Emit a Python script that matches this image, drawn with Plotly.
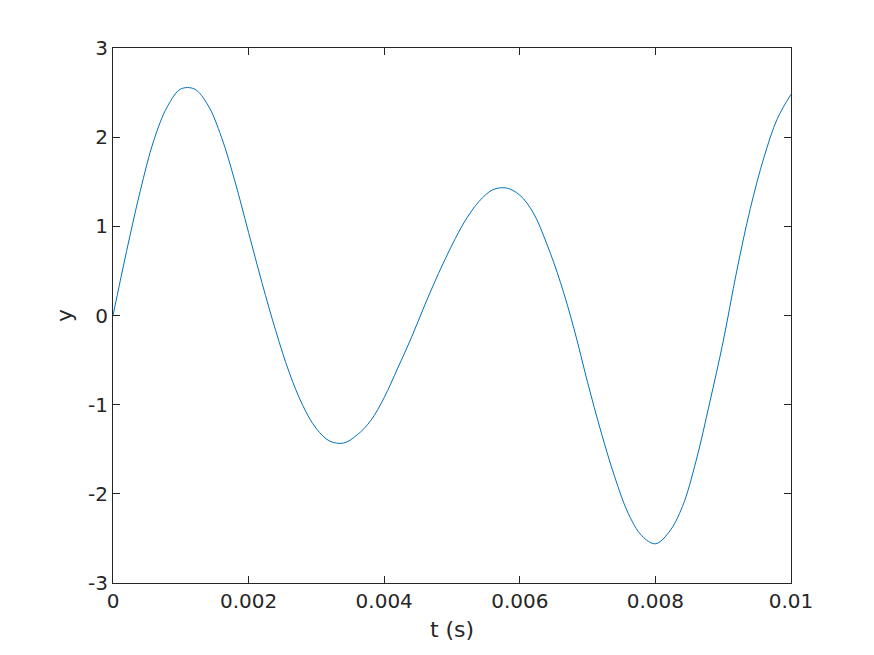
import plotly.graph_objects as go

# time samples (s) and signal values
t = [0.0000, 0.0002, 0.0004, 0.0006, 0.0008, 0.0010, 0.0012, 0.0014, 0.0016, 0.0018,
     0.0020, 0.0022, 0.0024, 0.0026, 0.0028, 0.0030, 0.0032, 0.0034, 0.0036, 0.0038,
     0.0040, 0.0042, 0.0044, 0.0046, 0.0048, 0.0050, 0.0052, 0.0054, 0.0056, 0.0058,
     0.0060, 0.0062, 0.0064, 0.0066, 0.0068, 0.0070, 0.0072, 0.0074, 0.0076, 0.0078,
     0.0080, 0.0082, 0.0084, 0.0086, 0.0088, 0.0090, 0.0092, 0.0094, 0.0096, 0.0098,
     0.0100]
y = [0.00, 0.72, 1.39, 1.96, 2.34, 2.54, 2.54, 2.36, 2.00, 1.50,
     0.93, 0.36, -0.17, -0.64, -1.01, -1.27, -1.41, -1.43, -1.34, -1.18,
     -0.92, -0.59, -0.25, 0.12, 0.47, 0.79, 1.07, 1.28, 1.41, 1.43,
     1.35, 1.15, 0.80, 0.37, -0.15, -0.75, -1.31, -1.81, -2.22, -2.47,
     -2.56, -2.43, -2.14, -1.63, -0.98, -0.29, 0.50, 1.20, 1.77, 2.21,
     2.48]

x_ticks = [0, 0.002, 0.004, 0.006, 0.008, 0.01]
x_ticklabels = ["0", "0.002", "0.004", "0.006", "0.008", "0.01"]
y_ticks = [-3, -2, -1, 0, 1, 2, 3]
y_ticklabels = ["-3", "-2", "-1", "0", "1", "2", "3"]

axis_color = "#262626"
tick_font = dict(family="DejaVu Sans", size=20, color=axis_color)
title_font = dict(family="DejaVu Sans", size=22, color=axis_color)

fig = go.Figure()
fig.add_trace(go.Scatter(x=t, y=y, mode="lines",
                         line=dict(color="#0072BD", width=1, shape="spline", smoothing=1),
                         showlegend=False, hoverinfo="skip"))

common = dict(showgrid=False, zeroline=False, showline=True, linecolor=axis_color,
              linewidth=1, mirror="ticks", ticks="inside", ticklen=7,
              tickcolor=axis_color, tickwidth=1, tickfont=tick_font)

fig.update_xaxes(range=[0, 0.01], tickvals=x_ticks, ticktext=x_ticklabels,
                 title=dict(text="t (s)", font=title_font, standoff=9), **common)
fig.update_yaxes(range=[-3, 3], tickvals=y_ticks, ticktext=y_ticklabels,
                 title=dict(text="y", font=title_font, standoff=9), **common)

# page body adds an 8 px offset, so the figure is sized/margined to compensate
fig.update_layout(width=866, height=647, paper_bgcolor="white", plot_bgcolor="white",
                  margin=dict(l=105, r=83, t=40, b=72, autoexpand=False))

fig.write_html("out.html")
